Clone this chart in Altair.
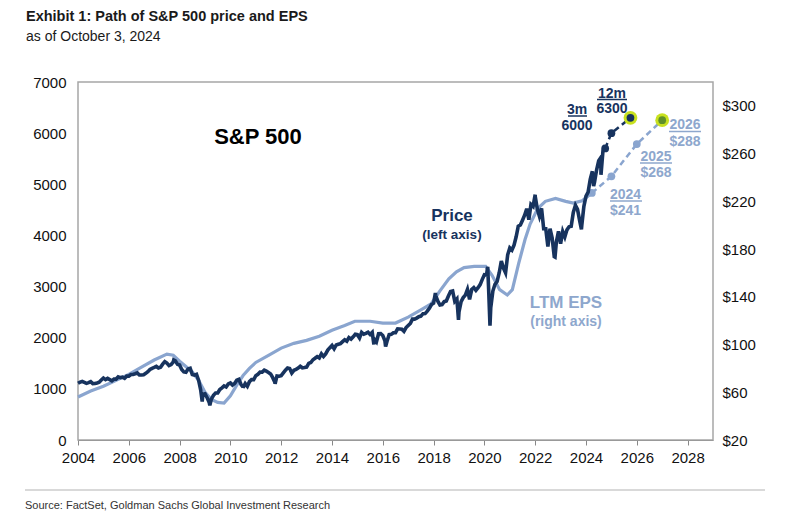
import altair as alt
import pandas as pd

# ---------------- data ----------------
# S&P 500 month-end closes
p2004 = [1131, 1145, 1126, 1107, 1121, 1141, 1102, 1104, 1115, 1130, 1174, 1212]
p2005 = [1181, 1204, 1181, 1157, 1192, 1191, 1234, 1220, 1229, 1207, 1249, 1248]
p2006 = [1280, 1281, 1295, 1311, 1270, 1270, 1277, 1304, 1336, 1378, 1401, 1418]
p2007 = [1438, 1407, 1421, 1482, 1531, 1503, 1455, 1474, 1527, 1549, 1481, 1468]
p2008 = [1379, 1331, 1323, 1386, 1400, 1280, 1267, 1283, 1166, 969, 896, 903]
p2009 = [826, 735, 798, 873, 919, 919, 987, 1021, 1057, 1036, 1096, 1115]
p2010 = [1074, 1104, 1169, 1187, 1089, 1031, 1102, 1049, 1141, 1183, 1181, 1258]
p2011 = [1286, 1327, 1326, 1364, 1345, 1321, 1292, 1219, 1131, 1253, 1247, 1258]
p2012 = [1312, 1366, 1408, 1398, 1310, 1362, 1379, 1407, 1441, 1412, 1416, 1426]
p2013 = [1498, 1515, 1569, 1598, 1631, 1606, 1686, 1633, 1682, 1757, 1806, 1848]
p2014 = [1783, 1859, 1872, 1884, 1924, 1960, 1931, 2003, 1972, 2018, 2068, 2059]
p2015 = [1995, 2105, 2068, 2086, 2107, 2063, 2104, 1972, 1920, 2079, 2080, 2044]
p2016 = [1940, 1932, 2060, 2065, 2097, 2099, 2174, 2171, 2168, 2126, 2199, 2239]
p2017 = [2279, 2364, 2363, 2384, 2412, 2423, 2470, 2472, 2519, 2575, 2648, 2674]
p2018 = [2824, 2714, 2641, 2648, 2705, 2718, 2816, 2902, 2914, 2712, 2760, 2507]
p2019 = [2704, 2784, 2834, 2946, 2752, 2942, 2980, 2926, 2977, 3038, 3141, 3231]
p2020 = [3226, 2954, 2585, 2912, 3044, 3100, 3271, 3500, 3363, 3270, 3622, 3756]
p2021 = [3714, 3811, 3973, 4181, 4204, 4298, 4395, 4523, 4308, 4605, 4567, 4766]
p2022 = [4516, 4374, 4530, 4132, 4132, 3785, 4130, 3955, 3586, 3872, 4080, 3840]
p2023 = [4077, 3970, 4109, 4169, 4180, 4450, 4589, 4508, 4288, 4194, 4568, 4770]
p2024 = [4846, 5096, 5254, 5036, 5278, 5460, 5522, 5648, 5762]

# intra-month extremes and endpoints (fractional year, level)
extra_x = [2004.0, 2007.77, 2008.89, 2009.19, 2010.5, 2011.76, 2015.65, 2016.11,
           2018.07, 2018.98, 2020.13, 2020.22, 2022.0, 2022.78, 2023.82, 2024.3,
           2024.59, 2024.755]
extra_v = [1109, 1565, 752, 677, 1023, 1099, 1868, 1829,
           2873, 2351, 3386, 2237, 4797, 3577, 4117, 4967,
           5186, 5700]

# LTM EPS (right axis)
eps_x = [2004.0, 2004.5, 2005.0, 2005.5, 2006.0, 2006.5, 2007.0, 2007.5, 2007.75,
         2008.0, 2008.5, 2008.75, 2009.0, 2009.25, 2009.5, 2009.75, 2010.0, 2010.25,
         2010.5, 2010.75, 2011.0, 2011.5, 2012.0, 2012.5, 2013.0, 2013.5, 2014.0,
         2014.5, 2014.9, 2015.5, 2016.0, 2016.5, 2017.0, 2017.5, 2017.9, 2018.25,
         2018.6, 2018.9, 2019.2, 2019.6, 2020.05, 2020.3, 2020.6, 2020.9, 2021.1,
         2021.35, 2021.6, 2021.8, 2022.1, 2022.4, 2022.8, 2023.2, 2023.5, 2023.85,
         2024.23]
eps_v = [56, 61, 65, 70, 75, 81, 87, 92, 91,
         86, 77, 70, 60, 54, 51.5, 51, 57, 66,
         74, 80, 85, 91, 97, 101, 103.5, 107, 112,
         116, 119.5, 119.5, 118, 118, 123, 129, 134, 145,
         155, 161, 164.5, 165.5, 165.5, 158, 146, 141.5, 146,
         168, 188, 201, 214, 220, 222.5, 220, 218.5, 220.5,
         227]

# forecasts
price_fc_x = [2024.755, 2025.0, 2025.75]
price_fc_v = [5700, 6000, 6300]
eps_fc_x = [2024.23, 2025.0, 2026.0, 2027.0]
eps_fc_v = [227, 241, 268, 288]

x_ticks = list(range(2004, 2029, 2))
left_ticks = [0, 1000, 2000, 3000, 4000, 5000, 6000, 7000]
right_ticks = [20, 60, 100, 140, 180, 220, 260, 300]

# ---------------- build tables ----------------
year_lists = [p2004, p2005, p2006, p2007, p2008, p2009, p2010, p2011, p2012, p2013,
              p2014, p2015, p2016, p2017, p2018, p2019, p2020, p2021, p2022, p2023, p2024]
rows = []
for i, vals in enumerate(year_lists):
    yr = 2004 + i
    for m, v in enumerate(vals):
        rows.append({"x": yr + (m + 1) / 12, "v": v})
for xx, vv in zip(extra_x, extra_v):
    rows.append({"x": xx, "v": vv})
price_df = pd.DataFrame(rows).sort_values("x").reset_index(drop=True)
eps_df = pd.DataFrame({"x": eps_x, "v": eps_v})
pfc_df = pd.DataFrame({"x": price_fc_x, "v": price_fc_v})
efc_df = pd.DataFrame({"x": eps_fc_x, "v": eps_fc_v})

NAVY = "#17335e"
LBLUE = "#8aa5cf"
LBLTXT = "#8ea7cd"
HALO = "#c8e11f"
SANS = "Liberation Sans"

W, H = 635, 358

xscale = alt.Scale(domain=[2004, 2029], nice=False, zero=False)
xenc = alt.X("x:Q", scale=xscale,
             axis=alt.Axis(values=x_ticks, format="d", title=None, grid=False,
                           ticks=True, tickSize=5, tickColor="#888888", tickWidth=1,
                           domainColor="#999999", labelPadding=5, labelFlush=False))

pscale = alt.Scale(domain=[0, 7000], nice=False, zero=True)
pyenc = alt.Y("v:Q", scale=pscale,
              axis=alt.Axis(values=left_ticks, orient="left", title=None, grid=False,
                            ticks=False, domain=False, labelPadding=12, format="d",
                            labelFlush=False))
escale = alt.Scale(domain=[20, 320], nice=False, zero=False)
eyenc = alt.Y("v:Q", scale=escale,
              axis=alt.Axis(values=right_ticks, orient="right", title=None, grid=False,
                            ticks=False, domain=False, labelPadding=9, labelFlush=False,
                            labelExpr="'$' + datum.value"))

# EPS group
eps_line = alt.Chart(eps_df).mark_line(color=LBLUE, strokeWidth=3.2).encode(x=xenc, y=eyenc)
eps_dash = alt.Chart(efc_df).mark_line(color=LBLUE, strokeWidth=2.5, strokeDash=[6, 4]).encode(x=xenc, y=eyenc)
eps_halo = alt.Chart(efc_df.tail(1)).mark_circle(color=HALO, opacity=1, size=190).encode(x=xenc, y=eyenc)
eps_dots = alt.Chart(efc_df.head(3)).mark_circle(color=LBLUE, opacity=1, size=60).encode(x=xenc, y=eyenc)
eps_last = alt.Chart(efc_df.tail(1)).mark_circle(color="#5f8f2a", opacity=1, size=60).encode(x=xenc, y=eyenc)
eps_group = alt.layer(eps_line, eps_dash, eps_halo, eps_dots, eps_last)

# Price group
price_line = alt.Chart(price_df).mark_line(color=NAVY, strokeWidth=3.6).encode(x=xenc, y=pyenc)
price_dash = alt.Chart(pfc_df).mark_line(color=NAVY, strokeWidth=2.5, strokeDash=[6, 4]).encode(x=xenc, y=pyenc)
price_halo = alt.Chart(pfc_df.tail(1)).mark_circle(color=HALO, opacity=1, size=190).encode(x=xenc, y=pyenc)
price_dots = alt.Chart(pfc_df).mark_circle(color=NAVY, opacity=1, size=60).encode(x=xenc, y=pyenc)
price_group = alt.layer(price_line, price_dash, price_halo, price_dots)

# ---------------- annotations ----------------
def txt(text, x, y, size, color, bold=True, align="center", font=SANS):
    return alt.Chart(pd.DataFrame({"t": [text]})).mark_text(
        align=align, baseline="middle", fontSize=size, color=color,
        fontWeight="bold" if bold else "normal", font=font
    ).encode(text="t:N", x=alt.value(x), y=alt.value(y))

def uline(x1, x2, y, color):
    return alt.Chart(pd.DataFrame({"a": [0]})).mark_rule(color=color, strokeWidth=1.5).encode(
        x=alt.value(x1), x2=alt.value(x2), y=alt.value(y))

ann = [
    txt("S&P 500", 180, 55, 22, "#000000"),
    txt("Price", 374, 134, 17, NAVY),
    txt("(left axis)", 374, 153, 13.5, NAVY),
    txt("LTM EPS", 488, 221, 17, LBLTXT),
    txt("(right axis)", 488, 240, 14, LBLTXT),
    txt("3m", 499, 28, 14, NAVY), uline(490, 509, 34, NAVY),
    txt("6000", 499, 44, 14, NAVY),
    txt("12m", 534, 12, 14, NAVY), uline(519, 549, 17.5, NAVY),
    txt("6300", 534, 26.5, 14, NAVY),
    txt("2026", 607, 43, 14, LBLTXT), uline(591, 623, 49.5, LBLTXT),
    txt("$288", 607, 59.5, 14, LBLTXT),
    txt("2025", 578, 74.5, 14, LBLTXT), uline(562, 594, 81, LBLTXT),
    txt("$268", 578, 91, 14, LBLTXT),
    txt("2024", 547.5, 112.5, 14, LBLTXT), uline(532, 564, 119, LBLTXT),
    txt("$241", 547.5, 129, 14, LBLTXT),
    txt("Exhibit 1: Path of S&P 500 price and EPS", -52, -65.5, 14.5, "#1a1a1a", align="left"),
    txt("as of October 3, 2024", -52, -45.5, 14, "#1a1a1a", bold=False, align="left"),
    alt.Chart(pd.DataFrame({"a": [0]})).mark_rule(color="#d9d9d9", strokeWidth=2).encode(
        x=alt.value(-53), x2=alt.value(687), y=alt.value(408)),
    txt("Source: FactSet, Goldman Sachs Global Investment Research", -53, 424, 11, "#333333",
        bold=False, align="left"),
]

chart = alt.layer(eps_group, price_group, *ann).resolve_scale(y="independent").properties(
    width=W, height=H,
    autosize=alt.AutoSizeParams(type="none"),
    padding={"left": 70, "top": 74, "right": 79, "bottom": 78},
).configure_view(stroke="#a6a6a6", strokeWidth=1.5).configure_axis(
    labelFont=SANS, labelFontSize=15, labelColor="#111111"
)

chart.save("out.html", embed_options={"renderer": "svg", "actions": False})
